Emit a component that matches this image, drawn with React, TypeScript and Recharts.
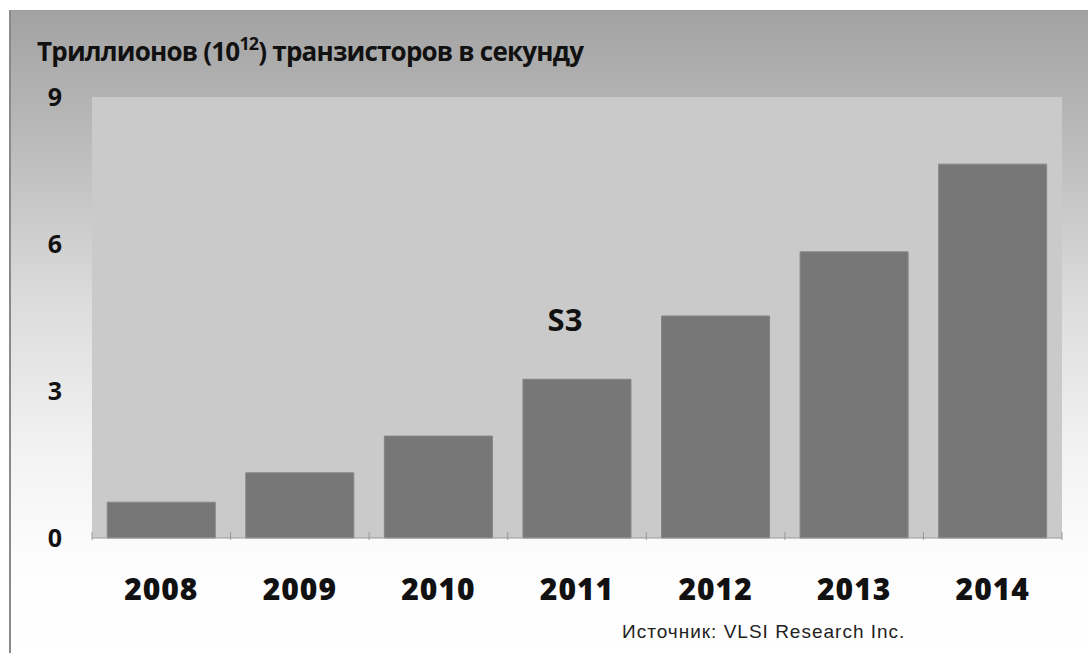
import React from 'react';
import { BarChart, Bar, XAxis, YAxis, CartesianGrid, ReferenceDot } from 'recharts';

const years = ['2008', '2009', '2010', '2011', '2012', '2013', '2014'];
const transistorsPerSecond = [0.73, 1.33, 2.08, 3.24, 4.53, 5.84, 7.63];
const yTicks = [0, 3, 6, 9];

const data = years.map((year, i) => ({ year, value: transistorsPerSecond[i] }));

const boldFont = '"Open Sans", "Noto Sans", sans-serif';

const YTick = (props: any) => {
    const { x, y, payload } = props;
    return (
        <text x={x} y={y} dy={9} textAnchor="end" fontFamily={boldFont} fontWeight={700} fontSize={25} fill="#111">
            {payload.value}
        </text>
    );
};

const XTick = (props: any) => {
    const { x, y, payload, index } = props;
    const half = payload.offset || 69;
    const top = y - 14;
    return (
        <g>
            <line x1={x - half} y1={top} x2={x - half} y2={top + 8} stroke="#9a9a9a" />
            {index === years.length - 1 && (
                <line x1={x + half} y1={top} x2={x + half} y2={top + 8} stroke="#9a9a9a" />
            )}
            <text x={x} y={y} dy={54} textAnchor="middle" fontFamily={boldFont} fontWeight={800} fontSize={30} letterSpacing={1} fill="#111">
                {payload.value}
            </text>
        </g>
    );
};

const S3Label = (props: any) => {
    const { viewBox } = props;
    const cx = viewBox.x + (viewBox.width || 0) / 2;
    const cy = viewBox.y + (viewBox.height || 0) / 2;
    return (
        <text x={cx - 12} y={cy} dy={11} textAnchor="middle" fontFamily={boldFont} fontWeight={700} fontSize={31} fill="#111">
            S3
        </text>
    );
};

export default function App() {
    return (
        <div style={{ position: 'absolute', left: 0, top: 0, width: 1088, height: 653, overflow: 'hidden', background: '#fff' }}>
            <div
                style={{
                    position: 'absolute',
                    left: 9,
                    top: 10,
                    right: -4,
                    bottom: -4,
                    borderLeft: '2px solid #8a8a8a',
                    borderTop: '1px solid #9a9a9a',
                    background: 'linear-gradient(to bottom, #a2a2a2 0%, #bdbdbd 22%, #dcdcdc 45%, #f2f2f2 68%, #fdfdfd 85%, #ffffff 100%)'
                }}
            />
            <div
                style={{
                    position: 'absolute',
                    left: 37,
                    top: 36,
                    fontFamily: boldFont,
                    fontWeight: 700,
                    fontSize: 26,
                    letterSpacing: -0.8,
                    color: '#111',
                    whiteSpace: 'nowrap',
                    lineHeight: '30px'
                }}
            >
                Триллионов (10<sup style={{ fontSize: 18, verticalAlign: 'top', lineHeight: '14px' }}>12</sup>) транзисторов в секунду
            </div>
            <div style={{ position: 'absolute', left: 0, top: 0 }}>
                <BarChart width={1088} height={653} data={data} margin={{ top: 97, right: 26, bottom: 85, left: 32 }} barCategoryGap="11%">
                    <CartesianGrid horizontal={false} vertical={false} fill="#cacaca" />
                    <XAxis dataKey="year" axisLine={{ stroke: '#9a9a9a' }} tickLine={false} tick={<XTick />} interval={0} />
                    <YAxis domain={[0, 9]} ticks={yTicks} width={60} axisLine={false} tickLine={false} tickMargin={24} tick={<YTick />} />
                    <Bar dataKey="value" fill="#777777" stroke="#858585" strokeWidth={1} isAnimationActive={false} />
                    <ReferenceDot x="2011" y={4.45} r={0} fill="none" stroke="none" label={<S3Label />} />
                </BarChart>
            </div>
            <div
                style={{
                    position: 'absolute',
                    left: 622,
                    top: 621,
                    fontFamily: '"Liberation Sans", Arial, sans-serif',
                    fontSize: 19,
                    letterSpacing: 1,
                    color: '#222',
                    whiteSpace: 'nowrap'
                }}
            >
                Источник: VLSI Research Inc.
            </div>
        </div>
    );
}
